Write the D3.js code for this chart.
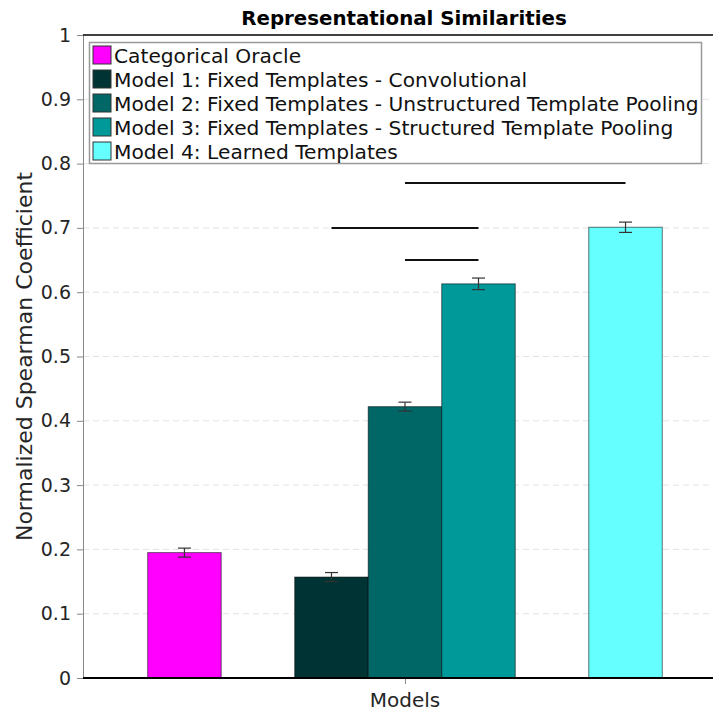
<!DOCTYPE html>
<html>
<head>
<meta charset="utf-8">
<title>Representational Similarities</title>
<script src="https://d3js.org/d3.v7.min.js"></script>
<style>
  body { margin: 0; background: #fff; font-family: "DejaVu Sans", sans-serif; }
  svg { display: block; }
</style>
</head>
<body>
<script>
// data
const labels = [
  "Categorical Oracle",
  "Model 1: Fixed Templates - Convolutional",
  "Model 2: Fixed Templates - Unstructured Template Pooling",
  "Model 3: Fixed Templates - Structured Template Pooling",
  "Model 4: Learned Templates"
];
const groupOf = [0, 1, 1, 1, 2];          // bars that sit side by side
const values  = [0.195, 0.157, 0.422, 0.613, 0.701];
const errors  = [0.007, 0.007, 0.007, 0.009, 0.008];
const colors  = ["#ff00ff", "#003333", "#006666", "#009999", "#66ffff"];
const yTicks  = [0, 0.1, 0.2, 0.3, 0.4, 0.5, 0.6, 0.7, 0.8, 0.9, 1];
// significance bars: [from bar, to bar, height]
const sigPairs = [[2, 4, 0.770], [1, 3, 0.700], [2, 3, 0.650]];

const W = 713, H = 711;
const m = { left: 83, right: 0, top: 35, bottom: 33 };

const svg = d3.select("body").append("svg")
  .attr("width", W).attr("height", H);

// slot index of each bar: one empty slot between groups
const slots = [];
let s = 0;
groupOf.forEach(function(g, i) {
  if (i > 0 && g !== groupOf[i - 1]) s += 1;
  slots.push(s);
  s += 1;
});

const x = d3.scaleLinear()
  .domain([-1.38, 7.19])
  .range([m.left, W - m.right]);
const bw = x(1) - x(0);

const y = d3.scaleLinear()
  .domain([0, 1])
  .range([H - m.bottom, m.top]);

// grid
svg.append("g")
  .selectAll("line")
  .data(yTicks.slice(1, -1))
  .join("line")
  .attr("x1", m.left).attr("x2", W - m.right)
  .attr("y1", d => y(d)).attr("y2", d => y(d))
  .attr("stroke", "#e3e3e3")
  .attr("stroke-width", 1)
  .attr("stroke-dasharray", "6,4");

// bars
svg.append("g")
  .selectAll("rect")
  .data(values)
  .join("rect")
  .attr("x", (d, i) => x(slots[i]) - bw / 2)
  .attr("width", bw)
  .attr("y", d => y(d))
  .attr("height", d => y(0) - y(d))
  .attr("fill", (d, i) => colors[i])
  .attr("stroke", "rgba(0,0,0,0.55)")
  .attr("stroke-width", 1);

// error bars
const eb = svg.append("g")
  .attr("stroke", "#333")
  .attr("stroke-width", 1.2);
values.forEach(function(v, i) {
  const cx = x(slots[i]);
  eb.append("line")
    .attr("x1", cx).attr("x2", cx)
    .attr("y1", y(v + errors[i])).attr("y2", y(v - errors[i]));
  [v + errors[i], v - errors[i]].forEach(function(e) {
    eb.append("line")
      .attr("x1", cx - 6.5).attr("x2", cx + 6.5)
      .attr("y1", y(e)).attr("y2", y(e));
  });
});

// significance lines
svg.append("g")
  .selectAll("line")
  .data(sigPairs)
  .join("line")
  .attr("x1", d => x(slots[d[0]])).attr("x2", d => x(slots[d[1]]))
  .attr("y1", d => y(d[2])).attr("y2", d => y(d[2]))
  .attr("stroke", "#111")
  .attr("stroke-width", 2);

// y axis
const yAxis = svg.append("g")
  .attr("transform", "translate(" + m.left + ",0)")
  .call(d3.axisLeft(y).tickValues(yTicks).tickSize(6).tickPadding(6)
    .tickFormat(d3.format("~g")));
yAxis.select(".domain").attr("stroke", "#888");
yAxis.selectAll(".tick line").attr("stroke", "#888");
yAxis.selectAll(".tick text")
  .attr("fill", "#262626")
  .style("font-family", "DejaVu Sans")
  .style("font-size", "19px");

// x axis
const xAxis = svg.append("g")
  .attr("transform", "translate(0," + y(0) + ")")
  .call(d3.axisBottom(x).tickValues([slots[2]]).tickSize(6).tickFormat(""));
xAxis.select(".domain").remove();
xAxis.selectAll(".tick line").attr("stroke", "#888");

// frame top / bottom
svg.append("line")
  .attr("x1", m.left).attr("x2", W)
  .attr("y1", y(0)).attr("y2", y(0))
  .attr("stroke", "#000").attr("stroke-width", 2.2);
svg.append("line")
  .attr("x1", m.left).attr("x2", W)
  .attr("y1", y(1)).attr("y2", y(1))
  .attr("stroke", "#000").attr("stroke-width", 1.6);

// titles
svg.append("text")
  .attr("x", 404).attr("y", 25)
  .attr("text-anchor", "middle")
  .style("font-family", "DejaVu Sans")
  .style("font-weight", "bold")
  .style("font-size", "19.8px")
  .text("Representational Similarities");

svg.append("text")
  .attr("x", x(slots[2])).attr("y", 707)
  .attr("text-anchor", "middle")
  .attr("fill", "#262626")
  .style("font-size", "20px")
  .text("Models");

svg.append("text")
  .attr("transform", "translate(32," + (m.top + y(0)) / 2 + ") rotate(-90)")
  .attr("text-anchor", "middle")
  .attr("fill", "#262626")
  .style("font-size", "22px")
  .text("Normalized Spearman Coefficient");

// legend
const lg = svg.append("g");
lg.append("rect")
  .attr("x", 89.5).attr("y", 42.5)
  .attr("width", 612).attr("height", 121)
  .attr("fill", "#fff")
  .attr("stroke", "#999")
  .attr("stroke-width", 1.5);
labels.forEach(function(t, i) {
  lg.append("rect")
    .attr("x", 93).attr("y", 46 + i * 24)
    .attr("width", 18).attr("height", 18)
    .attr("fill", colors[i])
    .attr("stroke", "#333").attr("stroke-width", 1);
  lg.append("text")
    .attr("x", 114).attr("y", 62.5 + i * 24)
    .attr("fill", "#111")
    .style("font-size", "20.2px")
    .text(t);
});
</script>
</body>
</html>
